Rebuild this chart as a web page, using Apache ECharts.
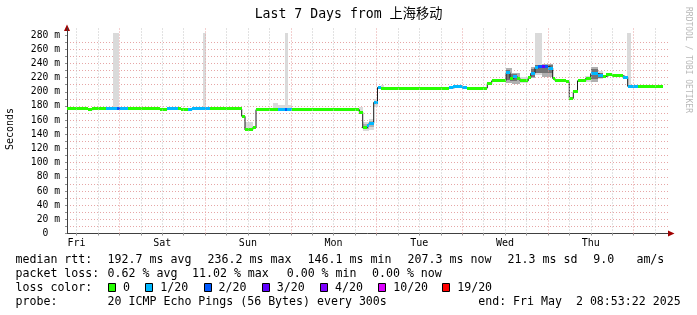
<!DOCTYPE html>
<html><head><meta charset="utf-8">
<script src="https://cdn.jsdelivr.net/npm/echarts@6/dist/echarts.min.js"></script>
<style>html,body{margin:0;padding:0;background:#fff}#c{width:697px;height:315px}</style>
</head><body><div id="c"></div>
<script>
// ---- data (hours since Fri 00:00, values in ms) ----
const titleText = 'Last 7 Days from 上海移动';
const dayNames = ['Fri', 'Sat', 'Sun', 'Mon', 'Tue', 'Wed', 'Thu'];
const dayNoon = [12, 36, 60, 84, 108, 132, 156];
const minorGridHours = [12, 18, 30, 36, 42, 54, 60, 66, 78, 84, 90, 102, 108, 114, 126, 132, 138, 150, 156, 162, 174];
const majorGridHours = [24, 48, 72, 96, 120, 144, 168];
const xTickHours = [12, 18, 24, 30, 36, 42, 48, 54, 60, 66, 72, 78, 84, 90, 96, 102, 108, 114, 120, 126, 132, 138, 144, 150, 156, 162, 168, 174];
const yTicks = [0, 10, 20, 30, 40, 50, 60, 70, 80, 90, 100, 110, 120, 130, 140, 150, 160, 170, 180, 190, 200, 210, 220, 230, 240, 250, 260, 270, 280];
const yLabelTicks = [0, 20, 40, 60, 80, 100, 120, 140, 160, 180, 200, 220, 240, 260, 280];

const medianTimes = [9.35, 15.23, 16.35, 20.19, 23.43, 24.19, 25.31, 26.43, 35.39, 37.27, 40.51, 41.27, 43.31, 44.27, 49.39,
  58.27, 59.19, 61.35, 62.27, 68.51, 70.39, 71.03, 72.27, 91.19, 92.15, 93.43, 93.99, 95.23, 96.29, 97.27,
  116.31, 117.51, 120.03, 121.27, 127.03, 128.27, 132.27, 133.39, 134.15, 135.27, 136.19, 138.51, 139.19, 140.39,
  141.31, 142.27, 143.19, 144.11, 145.35, 145.99, 149.07, 149.99, 151.11, 152.29, 154.59, 155.99, 158.11, 159.51,
  160.27, 161.87, 165.11, 166.35, 169.31, 176.23];
const medianValues = [175.7, 174.8, 175.7, 176.9, 176.9, 176.9, 175.7, 175.7, 174.8, 176.9, 176.0, 174.8, 174.8, 176.9, 175.7,
  165.4, 146.1, 149.2, 174.8, 175.5, 175.5, 175.5, 174.8, 171.2, 148.9, 152.0, 155.6, 185.0, 206.0, 205.2,
  205.5, 208.0, 206.0, 205.2, 211.5, 215.5, 227.0, 218.8, 221.3, 218.8, 215.5, 219.5, 226.0, 233.9,
  236.0, 236.2, 236.0, 233.5, 218.8, 215.5, 214.0, 190.6, 200.0, 215.5, 218.8, 225.6, 223.0, 221.6,
  224.0, 222.6, 220.6, 207.8, 207.3];
const medianLoss = [0, 0, 0, 1, 2, 1, 1, 0, 0, 1, 0, 0, 1, 1, 0,
  0, 0, 0, 0, 1, 2, 1, 0, 0, 0, 1, 1, 1, 1, 0,
  1, 1, 1, 0, 0, 0, 1, 0, 1, 0, 0, 0, 1, 1,
  2, 3, 2, 1, 0, 0, 0, 0, 0, 0, 0, 1, 1, 0,
  0, 0, 1, 1, 0];

const smokeStart = [22.23, 47.35, 59.19, 67.11, 68.51, 70.39, 71.31, 91.19, 92.23, 93.99, 95.31, 97.27, 132.27, 133.95, 136.19, 139.19, 140.39, 142.43, 154.39, 155.99, 158.11, 166.27,
  92.23, 93.99, 132.27, 133.39, 139.19, 140.39, 155.99, 158.11];
const smokeEnd = [23.99, 48.19, 61.35, 68.51, 70.39, 71.31, 72.35, 92.23, 93.99, 95.31, 96.43, 98.19, 133.95, 136.19, 138.43, 140.39, 142.43, 145.35, 155.99, 158.11, 159.43, 167.39,
  93.99, 95.31, 133.39, 135.27, 140.39, 145.35, 158.11, 159.43];
const smokeLow = [176, 176, 145, 174, 174, 175, 174, 168, 145, 146, 179, 205, 213, 211, 213, 219, 223, 221, 214, 214, 218, 207,
  147, 150, 217, 215, 221, 227, 218, 220];
const smokeHigh = [283, 283, 157, 184, 181, 283, 181, 178, 157, 162, 190, 209, 233, 227, 221, 235, 283, 239, 222, 235, 230, 283,
  155, 159, 231, 225, 232, 238, 232, 227];
const smokeShade = [0, 0, 0, 0, 0, 0, 0, 0, 0, 0, 0, 0, 1, 1, 0, 1, 0, 1, 0, 1, 0, 0,
  1, 1, 2, 2, 2, 2, 2, 2];

const lossColors = ['#26ff00', '#00b8ff', '#0059ff', '#5e00ff', '#7e00ff', '#dd00ff', '#ff0000'];
const lossLabels = ['0', '1/20', '2/20', '3/20', '4/20', '10/20', '19/20'];
const smokeColors = ['#dadada', '#b0b0b0', '#747474'];

const statsRow1 = ['median rtt:', '192.7 ms avg', '236.2 ms max', '146.1 ms min', '207.3 ms now', '21.3 ms sd', '9.0', 'am/s'];
const statsRow2 = ['packet loss:', '0.62 % avg', '11.02 % max', '0.00 % min', '0.00 % now'];
const statsRow4 = ['probe:', '20 ICMP Echo Pings (56 Bytes) every 300s', 'end: Fri May  2 08:53:22 2025'];
const lossColorTitle = 'loss color:';
const yAxisName = 'Seconds';
const watermark = 'RRDTOOL / TOBI OETIKER';

// ---- layout / styling ----
const MONO = "'DejaVu Sans Mono', 'Noto Sans CJK SC', monospace";
const row1X = [15.5, 107.6, 207.6, 307.6, 407.6, 507.6, 593.3, 636.4];
const row2X = [15.5, 107.6, 192.0, 286.7, 372.0];
const row4X = [15.5, 107.6, 478.2];
const boxX = [108, 145.3, 203.6, 261.8, 320, 378.2, 442.2];
const rowY = [260, 274, 288, 302];

const graphics = [];
function txt(s, x, y, size, opts) {
  graphics.push(Object.assign({
    type: 'text', x: x, y: y, silent: true,
    style: { text: s, font: size + 'px ' + MONO, fill: '#000', align: 'left', verticalAlign: 'middle' }
  }, opts || {}));
}
txt(titleText, 348.5, 15, 13.2, {});
graphics[graphics.length - 1].style.align = 'center';
statsRow1.forEach((s, i) => txt(s, row1X[i], rowY[0], 11.6));
statsRow2.forEach((s, i) => txt(s, row2X[i], rowY[1], 11.6));
txt(lossColorTitle, 15.5, rowY[2], 11.6);
lossLabels.forEach((s, i) => {
  graphics.push({
    type: 'rect', silent: true,
    shape: { x: Math.round(boxX[i]) + 0.5, y: rowY[2] - 4.5, width: 7, height: 8 },
    style: { fill: lossColors[i], stroke: '#000', lineWidth: 1 }
  });
  txt(s, boxX[i] + 15, rowY[2], 11.6);
});
statsRow4.forEach((s, i) => txt(s, row4X[i], rowY[3], 11.6));
// rotated axis name
graphics.push({
  type: 'text', x: 10, y: 129, rotation: Math.PI / 2, silent: true,
  style: { text: yAxisName, font: '10px ' + MONO, fill: '#000', align: 'center', verticalAlign: 'middle' }
});
graphics.push({
  type: 'text', x: 688, y: 60, rotation: -Math.PI / 2, silent: true,
  style: { text: watermark, font: '8px ' + MONO, fill: '#b8b8b8', align: 'center', verticalAlign: 'middle' }
});
// axis arrows
graphics.push({ type: 'polygon', silent: true, shape: { points: [[67, 24.5], [64, 31], [70, 31]] }, style: { fill: '#a00000' } });
graphics.push({ type: 'polygon', silent: true, shape: { points: [[674.5, 233.5], [668, 230.5], [668, 236.5]] }, style: { fill: '#a00000' } });

const n = medianValues.length;
const stepData = medianValues.map((v, i) => [medianTimes[i], v]);
stepData.push([medianTimes[n], medianValues[n - 1]]);
const segData = medianValues.map((v, i) => [medianTimes[i], medianTimes[i + 1], v, medianLoss[i]]);
const smokeData = smokeStart.map((s, i) => [s, smokeEnd[i], smokeLow[i], smokeHigh[i], smokeShade[i]]);

const dotted = [1, 2];
const option = {
  animation: false,
  backgroundColor: '#fff',
  grid: { left: 67, top: 28, width: 601, height: 205.5, containLabel: false },
  xAxis: {
    type: 'value', min: 9.35, max: 177.63,
    axisLine: { show: true, lineStyle: { color: '#404040', width: 1 } },
    axisTick: { show: true, customValues: xTickHours, length: 2, lineStyle: { color: '#909090' } },
    axisLabel: {
      customValues: dayNoon, margin: 5, color: '#000', fontFamily: MONO, fontSize: 10,
      formatter: v => dayNames[dayNoon.indexOf(v)] || ''
    },
    splitLine: { show: false }
  },
  yAxis: {
    type: 'value', min: 0, max: 290, interval: 10,
    axisLine: { show: true, lineStyle: { color: '#404040', width: 1 } },
    axisTick: { show: true, customValues: yTicks, length: 2, lineStyle: { color: '#909090' } },
    axisLabel: {
      customValues: yLabelTicks, margin: 7, color: '#000', fontFamily: MONO, fontSize: 9.7,
      formatter: v => (v === 0 ? '0  ' : v + ' m')
    },
    splitLine: { show: true, showMaxLine: false, showMinLine: false, lineStyle: { color: '#e6a6a6', type: dotted, width: 1 } }
  },
  graphic: graphics,
  series: [
    {
      type: 'line', data: [], z: 1, silent: true, symbol: 'none',
      markLine: {
        silent: true, symbol: 'none', animation: false, label: { show: false },
        lineStyle: { color: '#c4c4c4', type: dotted, width: 1 },
        data: minorGridHours.map(h => ({ xAxis: h }))
      }
    },
    {
      type: 'line', data: [], z: 1, silent: true, symbol: 'none',
      markLine: {
        silent: true, symbol: 'none', animation: false, label: { show: false },
        lineStyle: { color: '#e6a0a0', type: dotted, width: 1 },
        data: majorGridHours.map(h => ({ xAxis: h }))
      }
    },
    {
      type: 'custom', z: 2, silent: true, clip: false,
      encode: { x: [0, 1], y: [2, 3] },
      data: smokeData,
      renderItem: function (params, api) {
        const a = api.coord([api.value(0), api.value(3)]);
        const b = api.coord([api.value(1), api.value(2)]);
        const x0 = Math.round(a[0]), x1 = Math.round(b[0]);
        return { type: 'rect', shape: { x: x0, y: Math.round(a[1]), width: x1 - x0, height: Math.round(b[1]) - Math.round(a[1]) }, style: { fill: smokeColors[api.value(4)] } };
      }
    },
    {
      type: 'line', z: 3, silent: true, step: 'end', symbol: 'none',
      data: stepData,
      lineStyle: { color: '#1a1a1a', width: 1 }
    },
    {
      type: 'custom', z: 4, silent: true, clip: false,
      encode: { x: [0, 1], y: 2 },
      data: segData,
      renderItem: function (params, api) {
        const a = api.coord([api.value(0), api.value(2)]);
        const b = api.coord([api.value(1), api.value(2)]);
        const x0 = Math.round(a[0]), x1 = Math.round(b[0]);
        return { type: 'rect', shape: { x: x0, y: Math.round(a[1] - 1.5), width: x1 - x0, height: 3 }, style: { fill: lossColors[api.value(3)] } };
      }
    }
  ]
};
const chart = echarts.init(document.getElementById('c'), null, { renderer: 'canvas', width: 697, height: 315 });
chart.setOption(option);
</script>
</body></html>
